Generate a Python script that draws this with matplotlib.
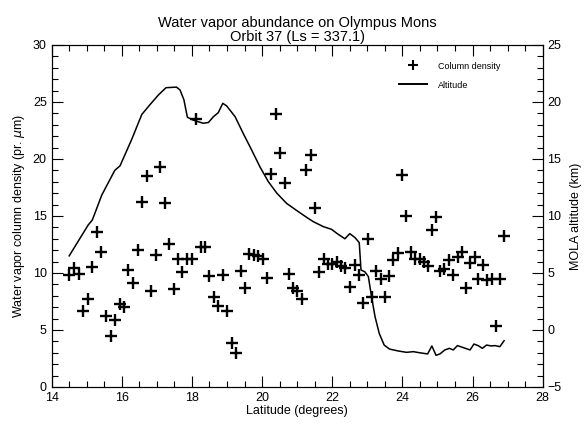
import matplotlib
matplotlib.use('Agg')
import matplotlib.pyplot as plt
from matplotlib.ticker import MultipleLocator
from matplotlib.lines import Line2D

# Water vapor column density measurements (pr. um) vs latitude
lat_wv = [14.50, 14.64, 14.77, 14.88, 15.03, 15.16, 15.29, 15.41, 15.55, 15.68,
          15.81, 15.94, 16.07, 16.18, 16.32, 16.45, 16.57, 16.71, 16.83, 16.97,
          17.09, 17.23, 17.35, 17.49, 17.59, 17.72, 17.86, 17.99, 18.11, 18.25,
          18.38, 18.50, 18.64, 18.74, 18.88, 19.01, 19.13, 19.26, 19.39, 19.51,
          19.63, 19.76, 19.88, 20.02, 20.14, 20.26, 20.40, 20.51, 20.64, 20.76,
          20.88, 21.00, 21.14, 21.26, 21.39, 21.51, 21.62, 21.76, 21.88, 22.00,
          22.13, 22.24, 22.36, 22.51, 22.64, 22.76, 22.88, 23.01, 23.12, 23.26,
          23.38, 23.50, 23.62, 23.74, 23.87, 23.99, 24.11, 24.24, 24.36, 24.49,
          24.62, 24.73, 24.84, 24.97, 25.08, 25.19, 25.33, 25.45, 25.58, 25.70,
          25.81, 25.93, 26.06, 26.17, 26.30, 26.42, 26.55, 26.66, 26.78, 26.90]
column_density = [9.85, 10.47, 9.91, 6.7, 7.72, 10.55, 13.6, 11.84, 6.26, 4.5,
                  5.9, 7.25, 7.05, 10.3, 9.15, 12.0, 16.2, 18.5, 8.45, 11.58,
                  19.3, 16.1, 12.55, 8.6, 11.2, 10.1, 11.25, 11.25, 23.5, 12.3,
                  12.28, 9.7, 7.87, 7.1, 9.8, 6.64, 3.83, 2.95, 10.18, 8.68,
                  11.7, 11.58, 11.5, 11.2, 9.6, 18.7, 23.9, 20.5, 17.9, 9.94,
                  8.66, 8.45, 7.75, 19.0, 20.35, 15.7, 10.12, 11.23, 10.76, 10.76,
                  10.94, 10.65, 10.44, 8.8, 10.67, 9.8, 7.4, 12.98, 7.92, 10.2,
                  9.5, 7.92, 9.74, 11.1, 11.72, 18.6, 15.03, 11.87, 11.2, 11.2,
                  10.96, 10.64, 13.8, 14.88, 10.2, 10.35, 11.14, 9.82, 11.43, 11.87,
                  8.68, 10.85, 11.38, 9.47, 10.67, 9.39, 9.5, 5.35, 9.47, 13.27]

# MOLA altitude profile (km)
lat_alt = [14.50, 15.04, 15.16, 15.43, 15.80, 15.95, 16.28, 16.57, 16.80, 17.04,
           17.26, 17.56, 17.66, 17.77, 17.87, 18.04, 18.32, 18.47, 18.61, 18.75,
           18.88, 18.99, 19.23, 19.46, 19.70, 19.94, 20.18, 20.42, 20.70, 20.99,
           21.27, 21.46, 21.75, 21.98, 22.13, 22.36, 22.50, 22.65, 22.77, 22.82,
           22.93, 23.03, 23.12, 23.22, 23.34, 23.48, 23.63, 23.88, 24.12, 24.31,
           24.50, 24.72, 24.84, 24.96, 25.07, 25.21, 25.34, 25.45, 25.57, 25.74,
           25.93, 26.04, 26.16, 26.28, 26.40, 26.53, 26.64, 26.78, 26.90]
altitude = [6.5, 9.2, 9.65, 11.84, 14.0, 14.4, 16.7, 18.9, 19.75, 20.6,
            21.25, 21.3, 21.05, 20.2, 18.66, 18.4, 18.13, 18.2, 18.7, 19.06,
            19.88, 19.65, 18.71, 17.25, 15.8, 14.3, 13.0, 12.0, 11.1, 10.47,
            9.88, 9.5, 9.06, 8.83, 8.48, 8.0, 8.45, 8.1, 7.66, 5.26,
            5.1, 4.68, 2.92, 1.17, -0.3, -1.32, -1.67, -1.84, -1.96, -1.9,
            -2.0, -2.1, -1.4, -2.22, -2.1, -1.75, -1.61, -1.75, -1.37, -1.55,
            -1.75, -1.23, -1.37, -1.61, -1.32, -1.4, -1.37, -1.46, -0.94]

plt.rcParams['font.family'] = ['Liberation Sans', 'DejaVu Sans']

fig = plt.figure(figsize=(5.87, 4.28), dpi=100)
ax = fig.add_axes([0.088, 0.0958, 0.8365, 0.7992])
ax2 = ax.twinx()

# Column density crosses
ax.plot(lat_wv, column_density, linestyle='none', marker='+', color='black',
        markersize=8, markeredgewidth=1.7)

# Altitude line on right axis
ax2.plot(lat_alt, altitude, color='black', linewidth=1.1)

ax.set_xlim(14, 28)
ax.set_ylim(0, 30)
ax2.set_ylim(-5, 25)

ax.xaxis.set_major_locator(MultipleLocator(2))
ax.xaxis.set_minor_locator(MultipleLocator(0.5))
ax.yaxis.set_major_locator(MultipleLocator(5))
ax.yaxis.set_minor_locator(MultipleLocator(1))
ax2.yaxis.set_major_locator(MultipleLocator(5))
ax2.yaxis.set_minor_locator(MultipleLocator(1))

ax.tick_params(axis='x', which='both', direction='in', top=True, labelsize=9)
ax.tick_params(axis='y', which='both', direction='in', right=False, labelsize=9)
ax.tick_params(which='major', length=8, width=0.8)
ax.tick_params(which='minor', length=4, width=0.8)
ax2.tick_params(axis='y', which='both', direction='in', labelsize=9)
ax2.tick_params(which='major', length=8, width=0.8)
ax2.tick_params(which='minor', length=4, width=0.8)

for a in (ax, ax2):
    for s in a.spines.values():
        s.set_linewidth(0.8)

ax.set_xlabel('Latitude (degrees)', fontsize=9, labelpad=1)
ax.set_ylabel(r'Water vapor column density (pr. $\mu$m)', fontsize=9, labelpad=4)
ax2.set_ylabel('MOLA altitude (km)', fontsize=9, labelpad=6)
ax.set_title('Water vapor abundance on Olympus Mons\nOrbit 37 (Ls = 337.1)',
             fontsize=10.5, linespacing=0.95, pad=3)

handles = [Line2D([], [], linestyle='none', marker='+', color='black',
                  markersize=7, markeredgewidth=1.5),
           Line2D([], [], color='black', linewidth=1.4)]
ax2.legend(handles, ['Column density', 'Altitude'], loc='upper left',
           bbox_to_anchor=(0.69, 0.975), frameon=False, fontsize=6.5,
           handlelength=3.2, labelspacing=1.1, handletextpad=1.2)

plt.savefig('out.png', dpi=100)
